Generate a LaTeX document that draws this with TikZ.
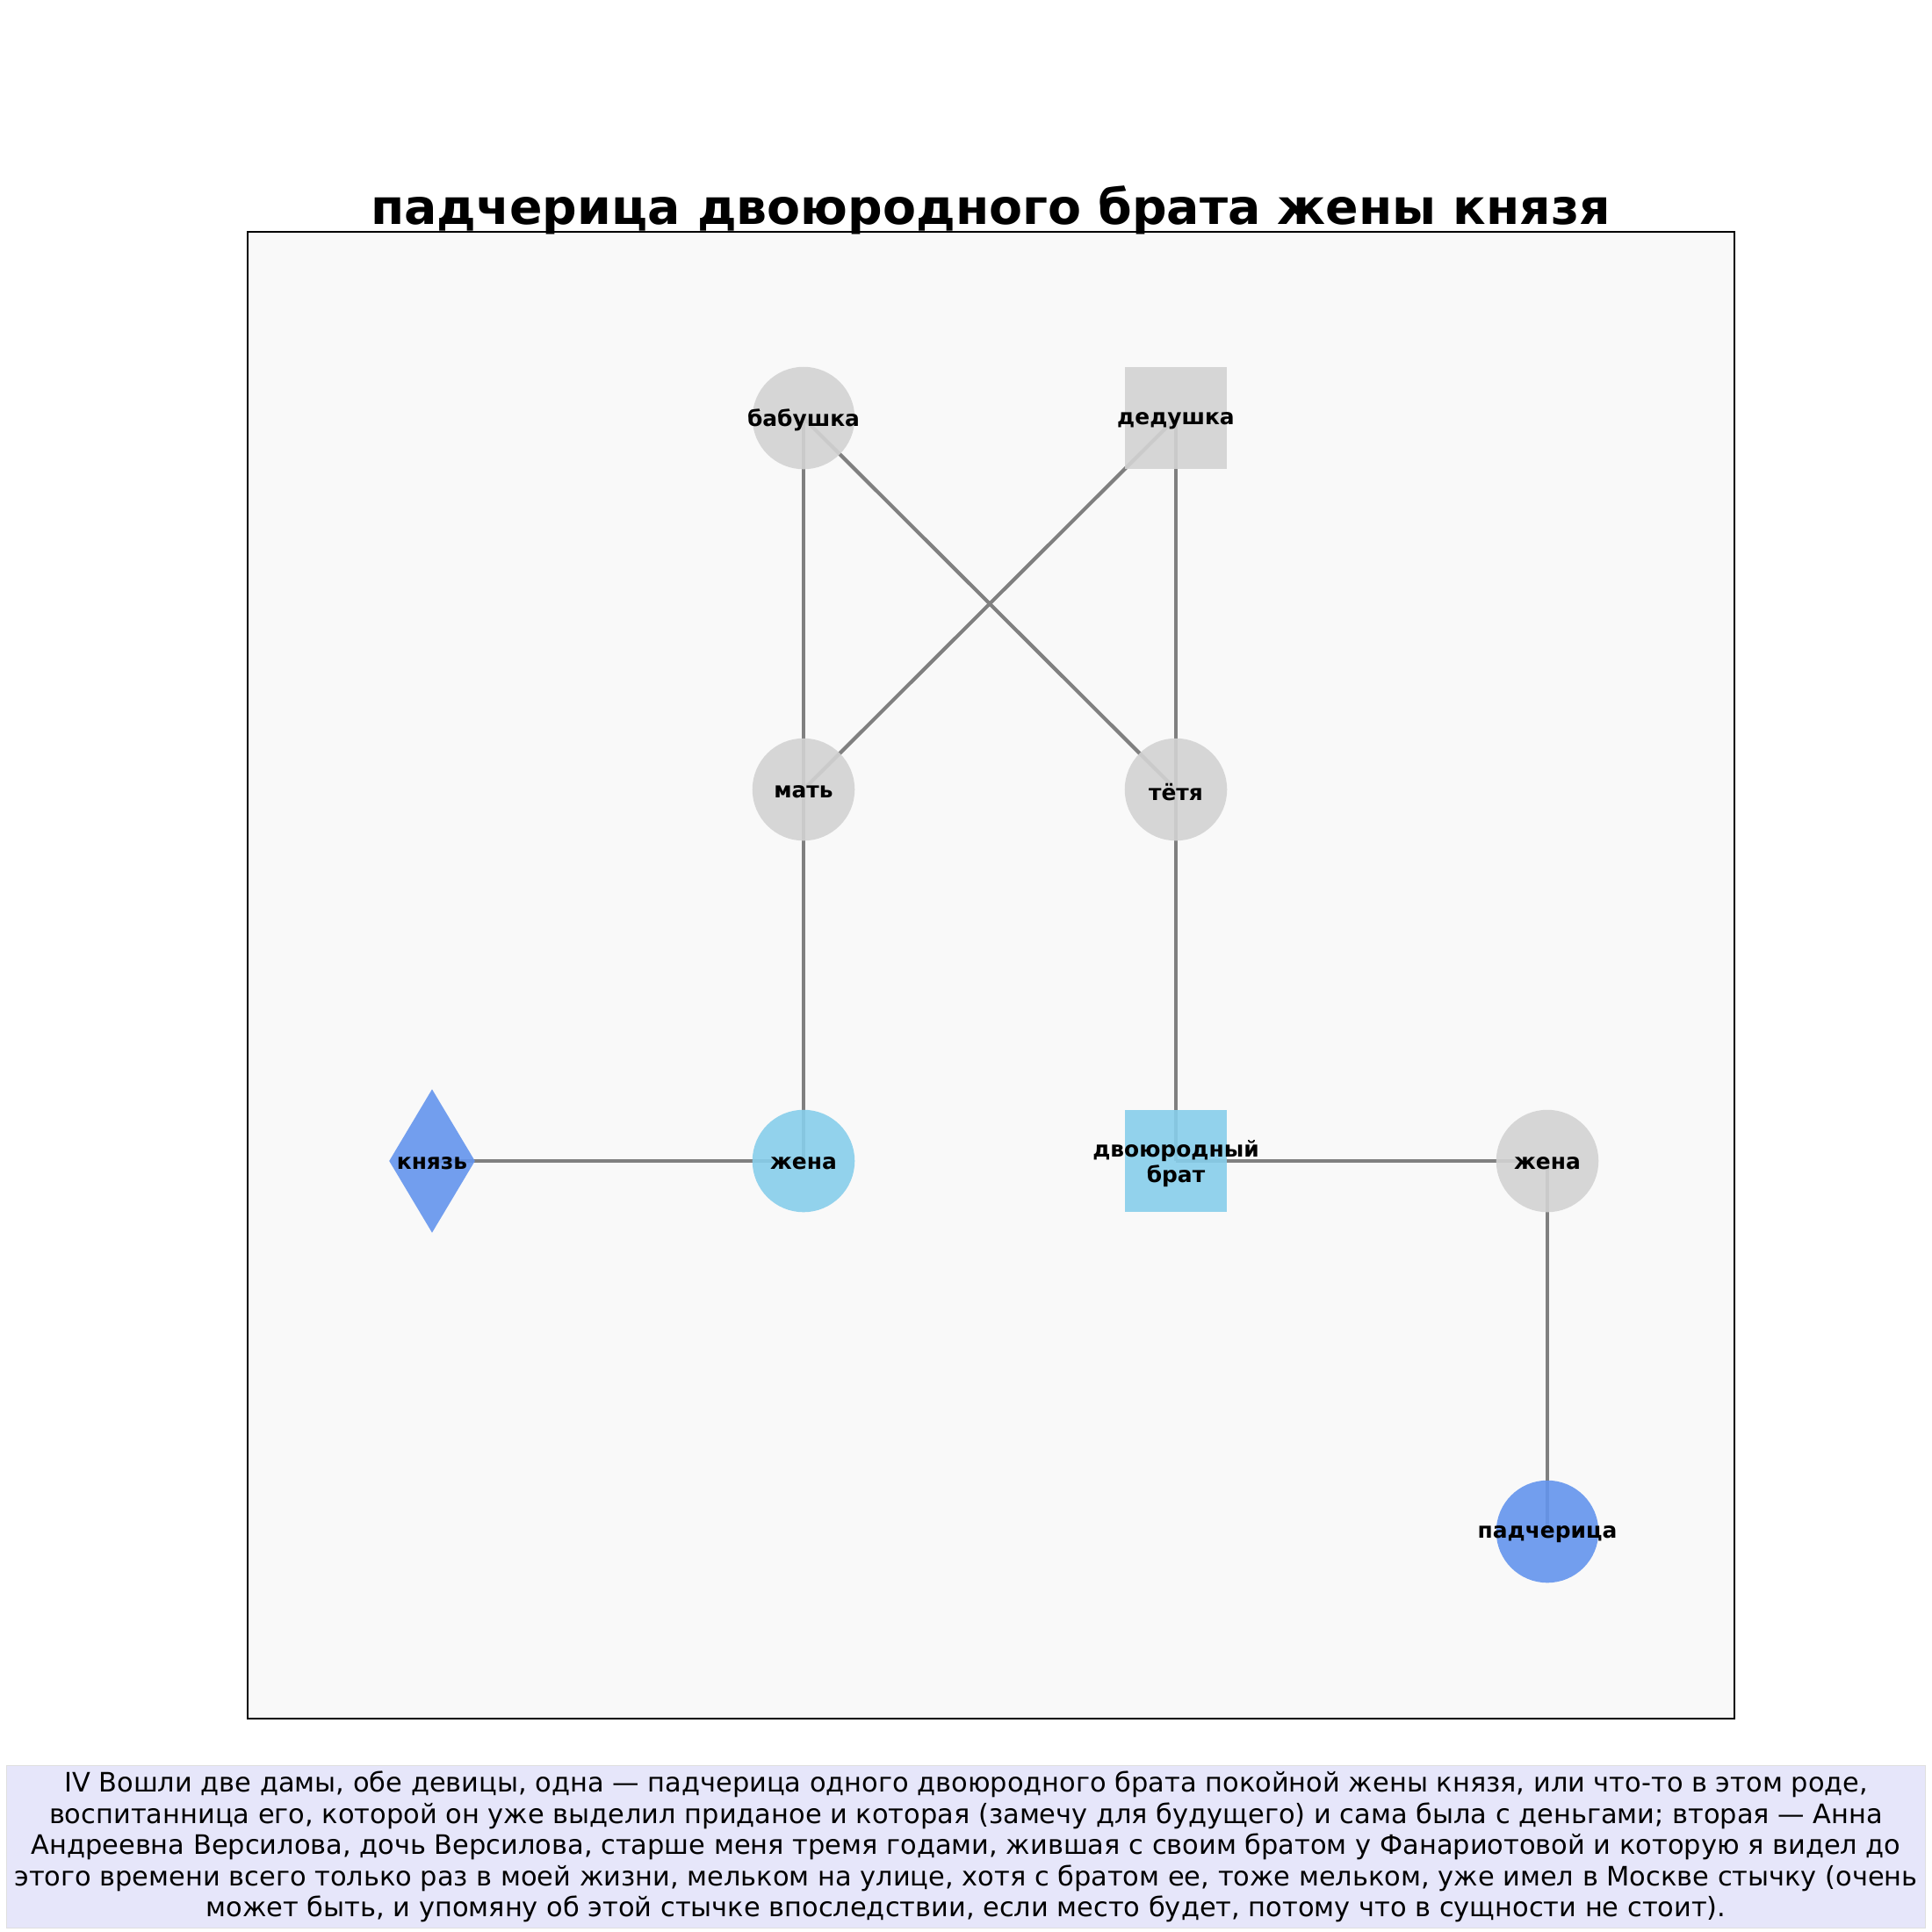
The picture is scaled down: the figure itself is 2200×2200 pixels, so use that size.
\documentclass[tikz,border=0pt]{standalone}
\usepackage{fontspec}
\setmainfont{DejaVu Sans}
\usetikzlibrary{shapes.geometric,backgrounds}
\definecolor{panelgray}{HTML}{F9F9F9}
\definecolor{nodegray}{HTML}{D3D3D3}
\definecolor{skyblue}{HTML}{87CEEB}
\definecolor{cornflower}{HTML}{6495ED}
\definecolor{lavender}{HTML}{E6E6FA}
\definecolor{edgegray}{HTML}{808080}

\begin{document}
\begin{tikzpicture}[x=0.127mm,y=-0.127mm,
  person/.style={inner sep=0,minimum size=1.48cm,fill opacity=0.9,text opacity=1},
  female/.style={person,circle},
  male/.style={person,rectangle},
  prince/.style={person,diamond,minimum width=1.245cm,minimum height=2.08cm},
  lbl/.style={font=\bfseries\fontsize{9}{10.5}\selectfont,align=center,inner sep=0,yshift=-1pt},
  every label/.style={lbl},
  link/.style={draw=edgegray,line width=1.5pt},
  caption/.style={fill=lavender,draw=gray!25,minimum width=27.74cm,minimum height=2.36cm,align=center,inner sep=0,font=\fontsize{11}{12.8}\selectfont}]
  \useasboundingbox (0,0) rectangle (2200,2200);
  \begin{scope}[on background layer]
    \fill[white] (0,0) rectangle (2200,2200);
    \fill[panelgray] (282,264) rectangle (1975,1957);
  \end{scope}
  \node (title) [anchor=base,font=\bfseries\fontsize{20}{24}\selectfont] at (1128,255) {падчерица двоюродного брата жены князя};
  % generation 1
  \node (babushka) [female,fill=nodegray,label={center:бабушка}] at (915,476) {};
  \node (dedushka) [male,fill=nodegray,label={center:дедушка}] at (1339,476) {};
  % generation 2
  \node (mat) [female,fill=nodegray,label={center:мать}] at (915,899) {};
  \node (tetya) [female,fill=nodegray,label={center:тётя}] at (1339,899) {};
  % generation 3
  \node (knyaz) [prince,fill=cornflower,label={center:князь}] at (492,1322) {};
  \node (zhena) [female,fill=skyblue,label={center:жена}] at (915,1322) {};
  \node (brat) [male,fill=skyblue,label={center:двоюродный\\брат}] at (1339,1322) {};
  \node (zhena2) [female,fill=nodegray,label={center:жена}] at (1762,1322) {};
  % generation 4
  \node (padcheritsa) [female,fill=cornflower,label={center:падчерица}] at (1762,1744) {};
  \begin{scope}[on background layer]
    \draw[link] (babushka.center) -- (mat.center);
    \draw[link] (babushka.center) -- (tetya.center);
    \draw[link] (dedushka.center) -- (mat.center);
    \draw[link] (dedushka.center) -- (tetya.center);
    \draw[link] (mat.center) -- (zhena.center);
    \draw[link] (tetya.center) -- (brat.center);
    \draw[link] (knyaz.center) -- (zhena.center);
    \draw[link] (brat.center) -- (zhena2.center);
    \draw[link] (zhena2.center) -- (padcheritsa.center);
  \end{scope}
  \draw[line width=0.8pt] (282,264) rectangle (1975,1957);
  \node (quote) [caption] at (1100,2103) {IV Вошли две дамы, обе девицы, одна — падчерица одного двоюродного брата покойной жены князя, или что-то в этом роде,\\
воспитанница его, которой он уже выделил приданое и которая (замечу для будущего) и сама была с деньгами; вторая — Анна\\
Андреевна Версилова, дочь Версилова, старше меня тремя годами, жившая с своим братом у Фанариотовой и которую я видел до\\
этого времени всего только раз в моей жизни, мельком на улице, хотя с братом ее, тоже мельком, уже имел в Москве стычку (очень\\
может быть, и упомяну об этой стычке впоследствии, если место будет, потому что в сущности не стоит).};
\end{tikzpicture}
\end{document}
